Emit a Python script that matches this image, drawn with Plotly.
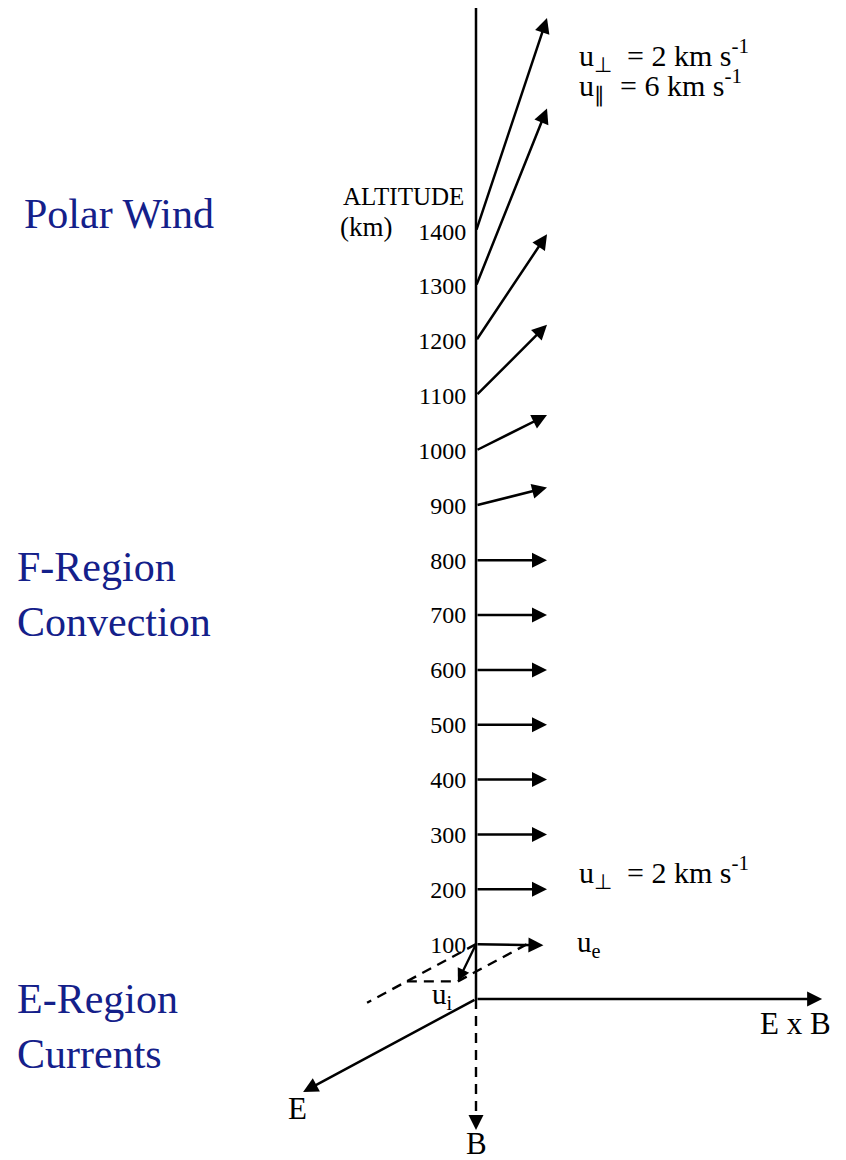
import plotly.graph_objects as go

# ---------------- data ----------------
altitudes = [200, 300, 400, 500, 600, 700, 800, 900, 1000, 1100, 1200, 1300, 1400]   # km
u_perp = [2.0, 2.0, 2.0, 2.0, 2.0, 2.0, 2.0, 2.0, 2.0, 2.0, 2.0, 2.0, 2.0]           # km/s
u_par = [0.0, 0.0, 0.0, 0.0, 0.0, 0.0, 0.0, 0.5, 1.0, 2.0, 3.0, 5.0, 6.0]            # km/s
tick_vals = [100, 200, 300, 400, 500, 600, 700, 800, 900, 1000, 1100, 1200, 1300, 1400]
tick_text = [str(v) for v in tick_vals]

e_alt = 100            # E-region level (km)
u_e = [1.9, -0.03]     # electron drift (perp, par) km/s
u_i = [-0.51, -1.05]   # ion drift as drawn (perp, par) km/s
axis_top = 1807        # km

# ---------------- layout / scales ----------------
W, H = 846, 1160
PAGE_OFFSET = 8        # default body margin of the html page
PX_PER_KMS = 35.5      # horizontal pixels per km/s
PX_PER_KM = 0.5485     # vertical pixels per km of altitude
X0_PX, Y0_PX = 476 - PAGE_OFFSET, 999 - PAGE_OFFSET
K = PX_PER_KMS / PX_PER_KM   # km of altitude per km/s (drawn velocity scale)

x_range = [-X0_PX / PX_PER_KMS, (W - X0_PX) / PX_PER_KMS]
y_range = [-(H - Y0_PX) / PX_PER_KM, Y0_PX / PX_PER_KM]

SERIF = "Liberation Serif, Times New Roman, serif"
BLUE = "#14208a"
LW = 2.5
AS = 1.2

fig = go.Figure()
ann = []


def arrow(x0, y0, x1, y1, width=LW, size=AS):
    ann.append(dict(x=x1, y=y1, ax=x0, ay=y0, xref="x", yref="y", axref="x", ayref="y",
                    showarrow=True, arrowhead=2, arrowsize=size, arrowwidth=width,
                    arrowcolor="black", standoff=0, startstandoff=0, text=""))


def label(x, y, text, size, color="black", xanchor="center", yanchor="middle", align="center"):
    ann.append(dict(x=x, y=y, xref="x", yref="y", text=text, showarrow=False,
                    font=dict(family=SERIF, size=size, color=color),
                    xanchor=xanchor, yanchor=yanchor, align=align))


def dashed(xs, ys, width=2.4):
    fig.add_trace(go.Scatter(x=xs, y=ys, mode="lines", hoverinfo="skip",
                             line=dict(color="black", width=width, dash="10px,7px")))


# vertical altitude axis
fig.add_trace(go.Scatter(x=[0, 0], y=[0, axis_top], mode="lines", hoverinfo="skip",
                         line=dict(color="black", width=LW)))

# velocity arrows at each altitude
for alt, up, ul in zip(altitudes, u_perp, u_par):
    arrow(0, alt, up, alt + ul * K)

# electron drift at 100 km
arrow(0, e_alt, u_e[0], e_alt + u_e[1] * K)

# 3-D frame: E (oblique), E x B, B (dashed, down)
E_vec = (-4.87, -169.6)
arrow(0, 0, E_vec[0], E_vec[1])
arrow(0, 0, 9.75, 0)
dashed([0, 0], [0, -226])
arrow(0, -218, 0, -239)

# ion drift and its parallelogram construction
A = (0.4 * E_vec[0], e_alt + 0.4 * E_vec[1])
tip = (u_i[0], e_alt + u_i[1] * K)
Bp = (tip[0] - A[0], e_alt)
ext = (0.63 * E_vec[0], e_alt + 0.63 * E_vec[1])
dashed([0, ext[0]], [e_alt, ext[1]])
dashed([A[0], tip[0]], [A[1], A[1]])
dashed([tip[0], Bp[0]], [A[1], Bp[1]])
arrow(0, e_alt, tip[0], A[1], width=2.3, size=1.1)

# labels
label(-12.79, 1431, "Polar Wind", 42, BLUE, xanchor="left")
label(-12.99, 738, "F-Region<br>Convection", 42, BLUE, xanchor="left", align="left")
label(-12.99, -50, "E-Region<br>Currents", 42, BLUE, xanchor="left", align="left")
label(-2.03, 1464, "ALTITUDE", 25)
label(-3.10, 1407, "(km)", 27)
label(2.85, 1721, "u<sub>⊥</sub>  = 2 km s<sup>-1</sup>", 30, xanchor="left")
label(2.85, 1666, "u<sub>∥</sub>  = 6 km s<sup>-1</sup>", 30, xanchor="left")
label(2.85, 231, "u<sub>⊥</sub>  = 2 km s<sup>-1</sup>", 30, xanchor="left")
label(2.79, 100, "u<sub>e</sub>", 29, xanchor="left")
label(-0.93, 5, "u<sub>i</sub>", 29)
label(-5.04, -199, "E", 31)
label(0, -263, "B", 31)
label(9.01, -44, "E x B", 31)

fig.update_layout(
    width=W, height=H, margin=dict(l=0, r=0, t=0, b=0),
    paper_bgcolor="white", plot_bgcolor="white", showlegend=False,
    annotations=ann,
    xaxis=dict(range=x_range, visible=False, fixedrange=True),
    yaxis=dict(range=y_range, showgrid=False, zeroline=False, showline=False,
               ticks="outside", ticklen=5, tickcolor="rgba(0,0,0,0)",
               tickvals=tick_vals, ticktext=tick_text,
               tickfont=dict(family=SERIF, size=24, color="black"),
               anchor="free", position=X0_PX / W, automargin=False, fixedrange=True),
)

fig.write_html("out.html")
